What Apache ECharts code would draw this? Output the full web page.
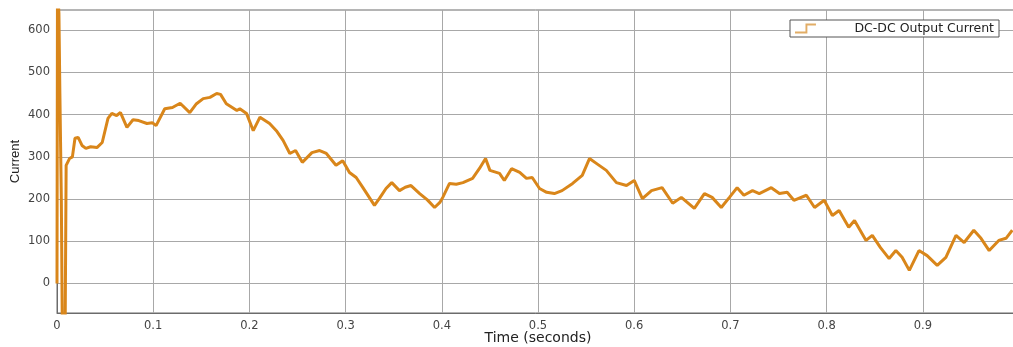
<!DOCTYPE html>
<html>
<head>
<meta charset="utf-8">
<script src="https://cdn.jsdelivr.net/npm/echarts@6/dist/echarts.min.js"></script>
<style>
  html, body { margin: 0; padding: 0; background: #fff; }
  #main { width: 1013px; height: 347px; }
</style>
</head>
<body>
<div id="main"></div>
<script>
// time (s) and current values
var timeValues = [
  0, 0.0005, 0.002, 0.003, 0.0045, 0.0055, 0.0085, 0.0095, 0.0104, 0.013,
  0.016, 0.0187, 0.022, 0.026, 0.030, 0.035, 0.0415, 0.047, 0.053, 0.057,
  0.062, 0.066, 0.0727, 0.079, 0.085, 0.0935, 0.099, 0.103, 0.112, 0.120,
  0.128, 0.138, 0.145, 0.152, 0.159, 0.166, 0.170, 0.176, 0.187, 0.190,
  0.197, 0.204, 0.211, 0.221, 0.228, 0.235, 0.242, 0.248, 0.255, 0.265,
  0.273, 0.280, 0.290, 0.297, 0.304, 0.311, 0.318, 0.330, 0.335, 0.342,
  0.348, 0.356, 0.362, 0.368, 0.377, 0.385, 0.3925, 0.398, 0.401, 0.408,
  0.415, 0.422, 0.432, 0.439, 0.4455, 0.450, 0.460, 0.465, 0.4725, 0.481,
  0.488, 0.494, 0.5016, 0.509, 0.517, 0.525, 0.536, 0.546, 0.5535, 0.561,
  0.571, 0.5815, 0.592, 0.600, 0.6085, 0.618, 0.629, 0.640, 0.649, 0.6625,
  0.673, 0.681, 0.6905, 0.699, 0.707, 0.714, 0.723, 0.730, 0.7425, 0.751,
  0.759, 0.766, 0.779, 0.7875, 0.7975, 0.806, 0.813, 0.823, 0.829, 0.841,
  0.8475, 0.856, 0.865, 0.872, 0.8785, 0.886, 0.896, 0.9045, 0.915, 0.924,
  0.9345, 0.943, 0.953, 0.9605, 0.969, 0.979, 0.9865, 0.993
];
var currentValues = [
  0, 700, 640, 450, 200, -100, -100, 280, 284, 296,
  300, 344, 346, 327, 320, 324, 322, 334, 391, 403,
  398, 405, 370, 388, 386, 379, 381, 374, 414, 417,
  427, 405, 426, 438, 441, 450, 448, 426, 410, 414,
  403, 362, 394, 379, 362, 339, 308, 315, 287, 310,
  315, 308, 280, 291, 263, 251, 227, 185, 201, 225,
  239, 220, 228, 232, 213, 198, 180, 192, 204, 237,
  235, 239, 249, 272, 296, 268, 261, 244, 272, 263,
  249, 251, 225, 216, 213, 220, 237, 256, 296, 284,
  268, 239, 232, 244, 201, 220, 227, 190, 204, 178,
  213, 204, 180, 204, 227, 209, 220, 213, 227, 213,
  216, 197, 209, 180, 197, 161, 173, 133, 149, 102,
  114, 85, 59, 78, 62, 31, 78, 66, 43, 62,
  114, 97, 126, 107, 78, 102, 107, 126
];
var yTicks = [0, 100, 200, 300, 400, 500, 600];
var seriesName = 'DC-DC Output Current';

var points = timeValues.map(function (t, i) { return [t, currentValues[i]]; });

var chart = echarts.init(document.getElementById('main'));
var option = {
  animation: false,
  grid: {
    left: 57, right: -6, top: 10, bottom: 34,
    outerBoundsMode: 'none',
    containLabel: false,
    show: true, borderColor: '#6b6b6b', borderWidth: 1, backgroundColor: '#fff'
  },
  legend: {
    left: 790, top: 20,
    padding: [2, 5, 2, 5],
    backgroundColor: '#fff',
    borderColor: '#555', borderWidth: 1,
    itemWidth: 22, itemHeight: 10,
    textStyle: { fontSize: 12.5, color: '#222', fontFamily: 'DejaVu Sans, Arial', padding: [0, 0, 0, 33] },
    data: [{
      name: seriesName,
      icon: 'path://M0,8.5 L11,8.5 L11,0 L22,0 L22,2 L13,2 L13,10.5 L0,10.5 Z',
      itemStyle: { color: '#e2ad66' }
    }]
  },
  xAxis: {
    type: 'value', min: 0, max: 1, interval: 0.1,
    name: 'Time (seconds)', nameLocation: 'middle', nameGap: 18, nameMoveOverlap: false,
    nameTextStyle: { fontSize: 14, color: '#222', fontFamily: 'DejaVu Sans, Arial', verticalAlign: 'top' },
    axisLine: { show: true, onZero: false, lineStyle: { color: '#6b6b6b' } },
    axisTick: { show: false },
    axisLabel: { color: '#444', fontSize: 11.5, margin: 7, showMaxLabel: false, fontFamily: 'DejaVu Sans, Arial' },
    splitLine: { show: true, lineStyle: { color: '#a8a8a8', width: 1 } }
  },
  yAxis: {
    type: 'value', min: -70, max: 648,
    name: 'Current', nameLocation: 'middle', nameGap: 35, nameRotate: 90, nameMoveOverlap: false,
    nameTextStyle: { fontSize: 13, color: '#222', fontFamily: 'Liberation Sans Narrow, Liberation Sans, Arial' },
    axisLine: { show: true, lineStyle: { color: '#6b6b6b' } },
    axisTick: { show: false, customValues: yTicks },
    axisLabel: { color: '#444', fontSize: 11.5, margin: 7, customValues: yTicks, fontFamily: 'DejaVu Sans, Arial' },
    splitLine: { show: true, lineStyle: { color: '#a8a8a8', width: 1 } }
  },
  series: [{
    name: seriesName,
    type: 'line',
    data: points,
    showSymbol: false,
    clip: true,
    lineStyle: { color: '#d9861a', width: 3 },
    itemStyle: { color: '#d9861a' }
  }]
};
chart.setOption(option);
</script>
</body>
</html>
